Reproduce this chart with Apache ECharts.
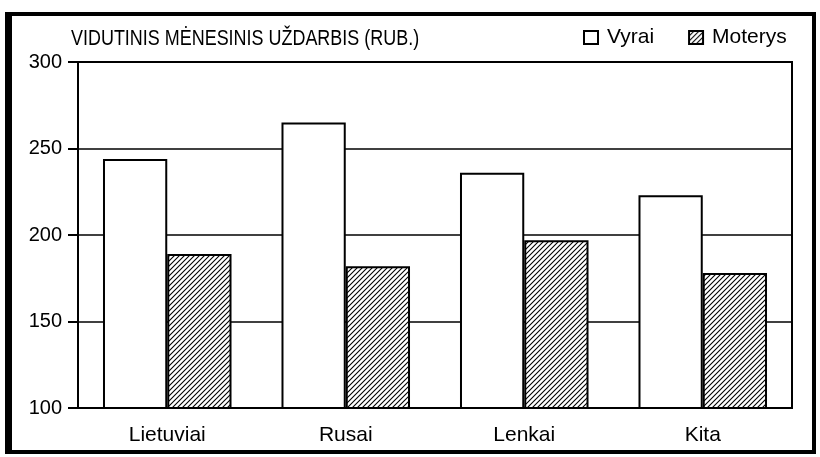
<!DOCTYPE html>
<html>
<head>
<meta charset="utf-8">
<script src="https://cdn.jsdelivr.net/npm/echarts@6/dist/echarts.min.js"></script>
<style>
  html, body { margin: 0; padding: 0; background: #fff; }
  #chart { width: 820px; height: 457px; }
</style>
</head>
<body>
<div id="chart"></div>
<script>
// Average monthly earnings by nationality, men vs women (roubles)
const categories = ['Lietuviai', 'Rusai', 'Lenkai', 'Kita'];
const vyrai = [244, 265, 236, 223];
const moterys = [189, 182, 197, 178];
const yTicks = { min: 100, max: 300, step: 50 };
const titleText = 'VIDUTINIS MĖNESINIS UŽDARBIS (RUB.)';

// Diagonal hatch fill for the women's bars
function hatchPattern() {
  const c = document.createElement('canvas');
  const s = 5;
  c.width = s; c.height = s;
  const g = c.getContext('2d');
  g.fillStyle = '#fff';
  g.fillRect(0, 0, s, s);
  g.strokeStyle = '#000';
  g.lineWidth = 1.1;
  g.beginPath();
  g.moveTo(0, s); g.lineTo(s, 0);
  g.moveTo(-1, 1); g.lineTo(1, -1);
  g.moveTo(s - 1, s + 1); g.lineTo(s + 1, s - 1);
  g.stroke();
  return { image: c, repeat: 'repeat' };
}

const font = '"Liberation Sans", Arial, Helvetica, sans-serif';
const chart = echarts.init(document.getElementById('chart'), null, { renderer: 'canvas' });

chart.setOption({
  animation: false,
  backgroundColor: '#fff',
  legend: {
    left: 583,
    top: 27,
    padding: 0,
    itemWidth: 14,
    itemHeight: 13,
    itemGap: 34,
    icon: 'rect',
    textStyle: { fontFamily: font, fontSize: 21, color: '#000', padding: [0, 0, 0, 4] },
    data: ['Vyrai', 'Moterys']
  },
  graphic: [
    {
      type: 'rect',
      shape: { x: 8, y: 14, width: 806, height: 438 },
      style: { fill: 'none', stroke: '#000', lineWidth: 4 },
      silent: true
    },
    {
      type: 'rect',
      shape: { x: 5, y: 12, width: 7, height: 442 },
      style: { fill: '#000' },
      silent: true
    },
    {
      // chart heading, drawn slightly condensed
      type: 'text',
      x: 71,
      y: 39,
      scaleX: 0.835,
      silent: true,
      style: {
        text: titleText,
        font: 'normal 21.5px ' + font,
        fill: '#000',
        verticalAlign: 'middle',
        align: 'left'
      }
    }
  ],
  grid: {
    left: 78, right: 28, top: 62, bottom: 49,
    show: true,
    borderColor: '#000',
    borderWidth: 2,
    backgroundColor: 'transparent'
  },
  xAxis: {
    type: 'category',
    data: categories,
    axisLine: { lineStyle: { color: '#000', width: 2 } },
    axisTick: { alignWithLabel: true, length: 9, lineStyle: { color: '#000', width: 2 } },
    axisLabel: { fontFamily: font, fontSize: 21, color: '#000', margin: 17 }
  },
  yAxis: {
    type: 'value',
    min: yTicks.min,
    max: yTicks.max,
    interval: yTicks.step,
    axisLine: { show: true, lineStyle: { color: '#000', width: 2 } },
    axisTick: { show: true, length: 10, lineStyle: { color: '#000', width: 2 } },
    axisLabel: { fontFamily: font, fontSize: 20, color: '#000', margin: 16 },
    splitLine: { lineStyle: { color: '#000', width: 1.5 } }
  },
  series: [
    {
      name: 'Vyrai',
      type: 'bar',
      data: vyrai,
      barWidth: '36%',
      barGap: '0%',
      itemStyle: { color: '#fff', borderColor: '#000', borderWidth: 2 }
    },
    {
      name: 'Moterys',
      type: 'bar',
      data: moterys,
      barWidth: '36%',
      barGap: '0%',
      itemStyle: { color: hatchPattern(), borderColor: '#000', borderWidth: 2 }
    }
  ]
});
</script>
</body>
</html>
